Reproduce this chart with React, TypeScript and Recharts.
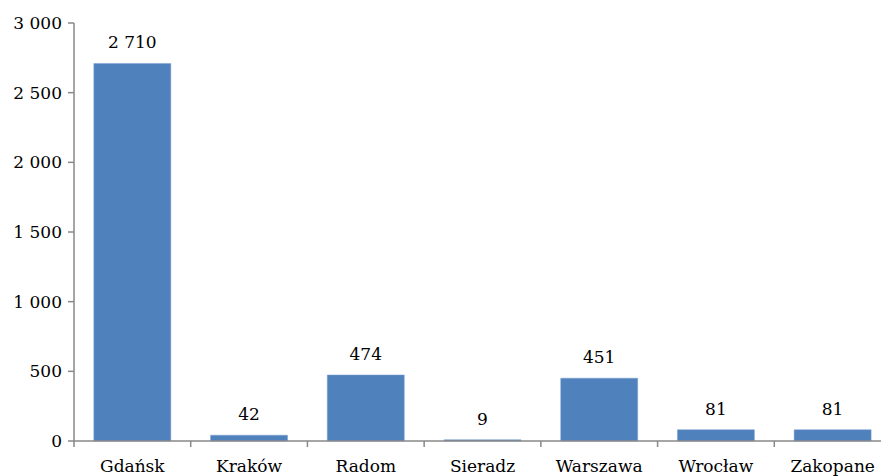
import { BarChart, Bar, XAxis, YAxis, LabelList } from 'recharts';

const cities = ['Gdańsk', 'Kraków', 'Radom', 'Sieradz', 'Warszawa', 'Wrocław', 'Zakopane'];
const counts = [2710, 42, 474, 9, 451, 81, 81];
const yTicks = [0, 500, 1000, 1500, 2000, 2500, 3000];

const data = cities.map((city, i) => ({ city, count: counts[i] }));

const CHART_W = 891;
const AXIS_X = 74;
const BAND = (CHART_W - AXIS_X) / cities.length;
const AXIS_COLOR = '#898989';
const FONT = '"DejaVu Serif", serif';

const fmt = (v: number) => String(v).replace(/\B(?=(\d{3})+(?!\d))/g, ' ');

function CityTick(props: any) {
  const { x, y, payload, index } = props;
  const axisY = y - 12;
  return (
    <g>
      <line x1={x - BAND / 2} x2={x - BAND / 2} y1={axisY} y2={axisY + 6} stroke={AXIS_COLOR} strokeWidth={1.5} />
      {index === cities.length - 1 && (
        <line x1={x + BAND / 2} x2={x + BAND / 2} y1={axisY} y2={axisY + 6} stroke={AXIS_COLOR} strokeWidth={1.5} />
      )}
      <text x={x} y={axisY + 31} textAnchor="middle" fontSize={17} fontFamily={FONT} fill="#000">
        {payload.value}
      </text>
    </g>
  );
}

function ValueLabel(props: any) {
  const { x, y, width, value } = props;
  return (
    <text x={x + width / 2} y={y - 15} textAnchor="middle" fontSize={17} fontFamily={FONT} fill="#000">
      {fmt(Number(value))}
    </text>
  );
}

export default function App() {
  return (
    <div style={{ position: 'fixed', left: 0, top: 0, width: 881, height: 476, overflow: 'hidden', background: '#fff' }}>
      <BarChart
        width={CHART_W}
        height={476}
        data={data}
        margin={{ top: 23, right: 0, bottom: 0, left: 0 }}
        barCategoryGap="17%"
      >
        <XAxis
          dataKey="city"
          height={35}
          stroke={AXIS_COLOR}
          strokeWidth={1.5}
          tickLine={false}
          tick={<CityTick />}
          tickMargin={6}
          interval={0}
        />
        <YAxis
          width={AXIS_X}
          domain={[0, 3000]}
          ticks={yTicks}
          tickFormatter={fmt}
          stroke={AXIS_COLOR}
          strokeWidth={1.5}
          tickSize={6}
          tickMargin={6}
          tick={{ fontSize: 17, fontFamily: FONT, fill: '#000' }}
        />
        <Bar dataKey="count" fill="#4F81BD" stroke="#7FA3D2" strokeWidth={0.5} isAnimationActive={false}>
          <LabelList dataKey="count" content={<ValueLabel />} />
        </Bar>
      </BarChart>
    </div>
  );
}
